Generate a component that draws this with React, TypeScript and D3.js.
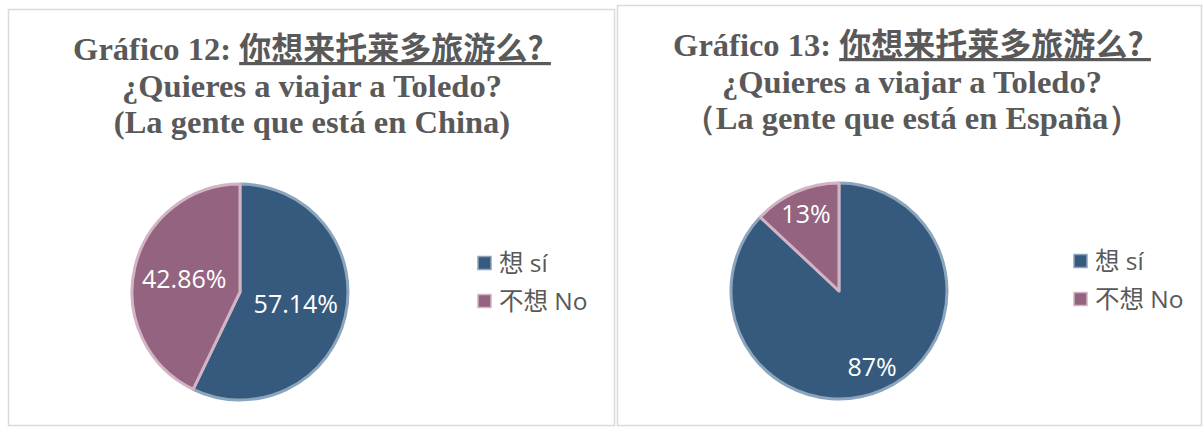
import React from "react";
import * as d3 from "d3";

// ---- data ----
const categories = ["想 sí", "不想 No"];
const chinaValues = [57.14, 42.86];
const spainValues = [87, 13];
const chinaLabels = ["57.14%", "42.86%"];
const spainLabels = ["87%", "13%"];
const titleNumbers = ["Gráfico 12: ", "Gráfico 13: "];
const titleChinese = "你想来托莱多旅游么? ";
const titleQuestion = "¿Quieres a viajar a Toledo?";
const titlePlaces = ["(La gente que está en China)", "（La gente que está en España）"];

const sliceColors = ["#365a7d", "#946380"];
const sliceStrokes = ["#8ca5bd", "#d2b4c5"];

const W = 1203;
const H = 427;

const charts = [
  {
    values: chinaValues,
    labels: chinaLabels,
    number: titleNumbers[0],
    place: titlePlaces[0],
    panel: { x: 8.5, y: 9.5, w: 606, h: 416 },
    titleX: 312,
    titleY: [60, 97, 133],
    cx: 240,
    cy: 292,
    r: 108,
    labelK: 0.53,
    legendX: 478,
    legendY: 263,
  },
  {
    values: spainValues,
    labels: spainLabels,
    number: titleNumbers[1],
    place: titlePlaces[1],
    panel: { x: 617.5, y: 5.5, w: 584, h: 420 },
    titleX: 912,
    titleY: [56, 93, 129],
    cx: 839,
    cy: 291,
    r: 108,
    labelK: 0.77,
    legendX: 1074,
    legendY: 261,
  },
];

const serif = "'Liberation Serif', 'Times New Roman', serif";
const cjk = "'Noto Sans CJK SC', sans-serif";
const sans = "'Open Sans', 'Noto Sans CJK SC', sans-serif";

function PieChart({ c }: { c: (typeof charts)[number] }) {
  const pie = d3
    .pie<number>()
    .sort(null)
    .value((d) => d)
    .startAngle(0)
    .endAngle(2 * Math.PI);
  const arcs = pie(c.values);
  const arc = d3.arc<d3.PieArcDatum<number>>().innerRadius(0).outerRadius(c.r);
  const labelArc = d3
    .arc<d3.PieArcDatum<number>>()
    .innerRadius(c.r * c.labelK)
    .outerRadius(c.r * c.labelK);
  const legendY = d3.scaleBand<string>().domain(categories).range([c.legendY - 19, c.legendY + 57]);

  return (
    <g>
      <rect
        x={c.panel.x}
        y={c.panel.y}
        width={c.panel.w}
        height={c.panel.h}
        fill="#fff"
        stroke="#dadada"
        strokeWidth={1.5}
      />
      <text
        x={c.titleX}
        y={c.titleY[0]}
        textAnchor="middle"
        fill="#595959"
        fontWeight="bold"
        style={{ whiteSpace: "pre" }}
      >
        <tspan fontFamily={serif} fontSize={32.5}>
          {c.number}
        </tspan>
        <tspan fontFamily={cjk} fontSize={32} textDecoration="underline">
          {titleChinese}
        </tspan>
      </text>
      <text
        x={c.titleX}
        y={c.titleY[1]}
        textAnchor="middle"
        fill="#595959"
        fontWeight="bold"
        fontFamily={serif}
        fontSize={32.5}
      >
        {titleQuestion}
      </text>
      <text
        x={c.titleX}
        y={c.titleY[2]}
        textAnchor="middle"
        fill="#595959"
        fontWeight="bold"
        fontFamily={serif}
        fontSize={32.5}
      >
        {c.place}
      </text>
      <g transform={`translate(${c.cx},${c.cy})`}>
        {arcs.map((a, i) => (
          <path
            key={i}
            d={arc(a) || ""}
            fill={sliceColors[i]}
            stroke={sliceStrokes[i]}
            strokeWidth={3}
            strokeLinejoin="round"
          />
        ))}
        {arcs.map((a, i) => {
          const [lx, ly] = labelArc.centroid(a);
          return (
            <text
              key={"l" + i}
              x={lx}
              y={ly}
              dy="0.35em"
              textAnchor="middle"
              fill="#fff"
              fontFamily={sans}
              fontSize={25}
            >
              {c.labels[i]}
            </text>
          );
        })}
      </g>
      {categories.map((cat, i) => {
        const y = (legendY(cat) || 0) + legendY.bandwidth() / 2;
        return (
          <g key={"lg" + i}>
            <rect
              x={c.legendX}
              y={y - 6.5}
              width={13}
              height={13}
              fill={sliceColors[i]}
              stroke={sliceStrokes[i]}
              strokeWidth={1.5}
            />
            <text
              x={c.legendX + 21}
              y={y}
              dy="0.36em"
              fill="#595959"
              fontFamily={sans}
              fontSize={24.5}
            >
              {cat}
            </text>
          </g>
        );
      })}
    </g>
  );
}

export default function App() {
  return (
    <svg
      width={W}
      height={H}
      style={{ position: "absolute", left: 0, top: 0, background: "#fff" }}
    >
      <rect x={0} y={0} width={W} height={H} fill="#fff" />
      {charts.map((c, i) => (
        <PieChart key={i} c={c} />
      ))}
    </svg>
  );
}
